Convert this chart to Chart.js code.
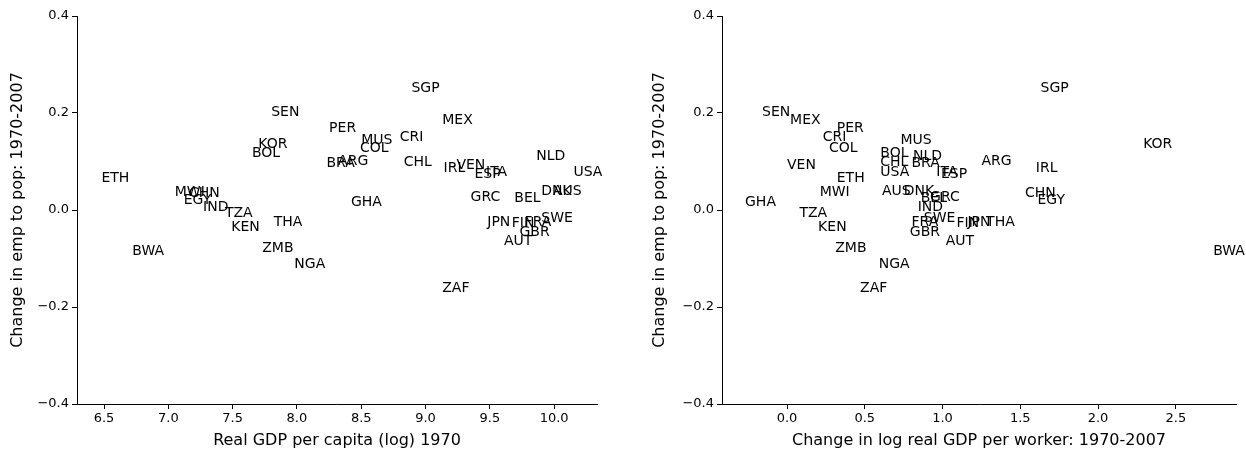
<!DOCTYPE html>
<html>
<head>
<meta charset="utf-8">
<script src="https://cdn.jsdelivr.net/npm/chart.js@4.4.1/dist/chart.umd.min.js"></script>
<style>
  body { margin: 0; background: #fff; }
  #contenedor { position: relative; width: 1246px; height: 450px; }
  .panel { position: absolute; top: 0; width: 623px; height: 450px; }
</style>
</head>
<body>
<div id="contenedor">
  <div class="panel" style="left:0"><canvas id="graficoNivel" width="623" height="450"></canvas></div>
  <div class="panel" style="left:623px"><canvas id="graficoCambio" width="623" height="450"></canvas></div>
</div>
<script>
// codigos de pais, en el mismo orden en todos los arreglos
const paises = ['ETH','SEN','KOR','BOL','MWI','CHN','EGY','IND','TZA','KEN',
                'THA','BWA','ZMB','NGA','PER','BRA','ARG','MUS','COL','CRI',
                'SGP','MEX','CHL','GHA','IRL','VEN','ESP','ITA','GRC','BEL',
                'NLD','USA','DNK','AUS','JPN','FIN','FRA','SWE','GBR','AUT','ZAF'];

// PIB real per capita (log) 1970
const pibLog1970 = [6.48, 7.80, 7.70, 7.65, 7.05, 7.16, 7.12, 7.27, 7.44, 7.49,
                    7.82, 6.72, 7.73, 7.98, 8.25, 8.23, 8.32, 8.50, 8.49, 8.80,
                    8.89, 9.13, 8.83, 8.42, 9.14, 9.24, 9.38, 9.47, 9.35, 9.69,
                    9.86, 10.15, 9.90, 9.99, 9.48, 9.67, 9.77, 9.90, 9.73, 9.61, 9.13];

// cambio en log PIB real por trabajador 1970-2007
const cambioPib = [0.32, -0.16, 2.29, 0.60, 0.21, 1.53, 1.61, 0.84, 0.08, 0.20,
                   1.28, 2.74, 0.31, 0.59, 0.32, 0.80, 1.25, 0.73, 0.27, 0.23,
                   1.63, 0.02, 0.60, -0.27, 1.60, 0.00, 0.99, 0.96, 0.92, 0.86,
                   0.81, 0.60, 0.75, 0.61, 1.16, 1.09, 0.80, 0.88, 0.79, 1.02, 0.47];

// cambio en empleo / poblacion 1970-2007
const cambioEmp = [0.057, 0.194, 0.127, 0.109, 0.029, 0.026, 0.012, -0.003, -0.015, -0.043,
                   -0.034, -0.093, -0.086, -0.119, 0.160, 0.088, 0.092, 0.137, 0.120, 0.142,
                   0.244, 0.178, 0.090, 0.009, 0.078, 0.084, 0.066, 0.071, 0.018, 0.016,
                   0.104, 0.071, 0.031, 0.030, -0.034, -0.035, -0.034, -0.025, -0.054, -0.072, -0.170];

const ticksEmp = [-0.4, -0.2, 0.0, 0.2, 0.4];
const ticksPib1970 = [6.5, 7.0, 7.5, 8.0, 8.5, 9.0, 9.5, 10.0];
const ticksCambioPib = [0.0, 0.5, 1.0, 1.5, 2.0, 2.5];

const fuente = '"DejaVu Sans", sans-serif';

// dibuja el codigo de cada pais en la posicion de su punto
const etiquetasPaises = {
  id: 'etiquetasPaises',
  afterDatasetsDraw(chart) {
    const ctx = chart.ctx;
    const meta = chart.getDatasetMeta(0);
    ctx.save();
    ctx.font = '14px ' + fuente;
    ctx.fillStyle = '#000';
    ctx.textAlign = 'left';
    ctx.textBaseline = 'alphabetic';
    meta.data.forEach((punto, i) => ctx.fillText(paises[i], punto.x, punto.y));
    ctx.restore();
  }
};

const formato = v => v.toFixed(1).replace('-', '\u2212');

function crearGrafico(idCanvas, valoresX, minX, maxX, ticksX, tituloX, anchoEjeY, margenDerecho, sepTituloY) {
  return new Chart(document.getElementById(idCanvas), {
    type: 'scatter',
    data: {
      datasets: [{
        data: valoresX.map((x, i) => ({x: x, y: cambioEmp[i]})),
        pointRadius: 0,
        pointHoverRadius: 0
      }]
    },
    options: {
      responsive: false,
      animation: false,
      layout: {padding: {top: 16, right: margenDerecho, left: 0, bottom: 0}},
      plugins: {legend: {display: false}, tooltip: {enabled: false}},
      scales: {
        x: {
          type: 'linear',
          min: minX,
          max: maxX,
          afterBuildTicks: s => { s.ticks = ticksX.map(v => ({value: v})); },
          afterFit: s => { s.height = 46; },
          grid: {drawOnChartArea: false, tickLength: 5, tickColor: '#000'},
          border: {color: '#000', width: 1},
          ticks: {color: '#000', font: {family: fuente, size: 13}, padding: 2,
                  autoSkip: false, maxRotation: 0, callback: formato},
          title: {display: true, text: tituloX, color: '#000',
                  font: {family: fuente, size: 16}, padding: {top: 1, bottom: 0}}
        },
        y: {
          type: 'linear',
          min: -0.4,
          max: 0.4,
          afterBuildTicks: s => { s.ticks = ticksEmp.map(v => ({value: v})); },
          afterFit: s => { s.width = anchoEjeY; },
          grid: {drawOnChartArea: false, tickLength: 5, tickColor: '#000'},
          border: {color: '#000', width: 1},
          ticks: {color: '#000', font: {family: fuente, size: 13}, padding: 3,
                  autoSkip: false, callback: formato},
          title: {display: true, text: 'Change in emp to pop: 1970-2007', color: '#000',
                  font: {family: fuente, size: 16},
                  padding: {top: sepTituloY, bottom: 0}}
        }
      }
    },
    plugins: [etiquetasPaises]
  });
}

let graficoNivel = crearGrafico('graficoNivel', pibLog1970, 6.29, 10.333, ticksPib1970,
  'Real GDP per capita (log) 1970', 77, 26, 8);
let graficoCambio = crearGrafico('graficoCambio', cambioPib, -0.418, 2.887, ticksCambioPib,
  'Change in log real GDP per worker: 1970-2007', 99, 10, 27);
</script>
</body>
</html>
